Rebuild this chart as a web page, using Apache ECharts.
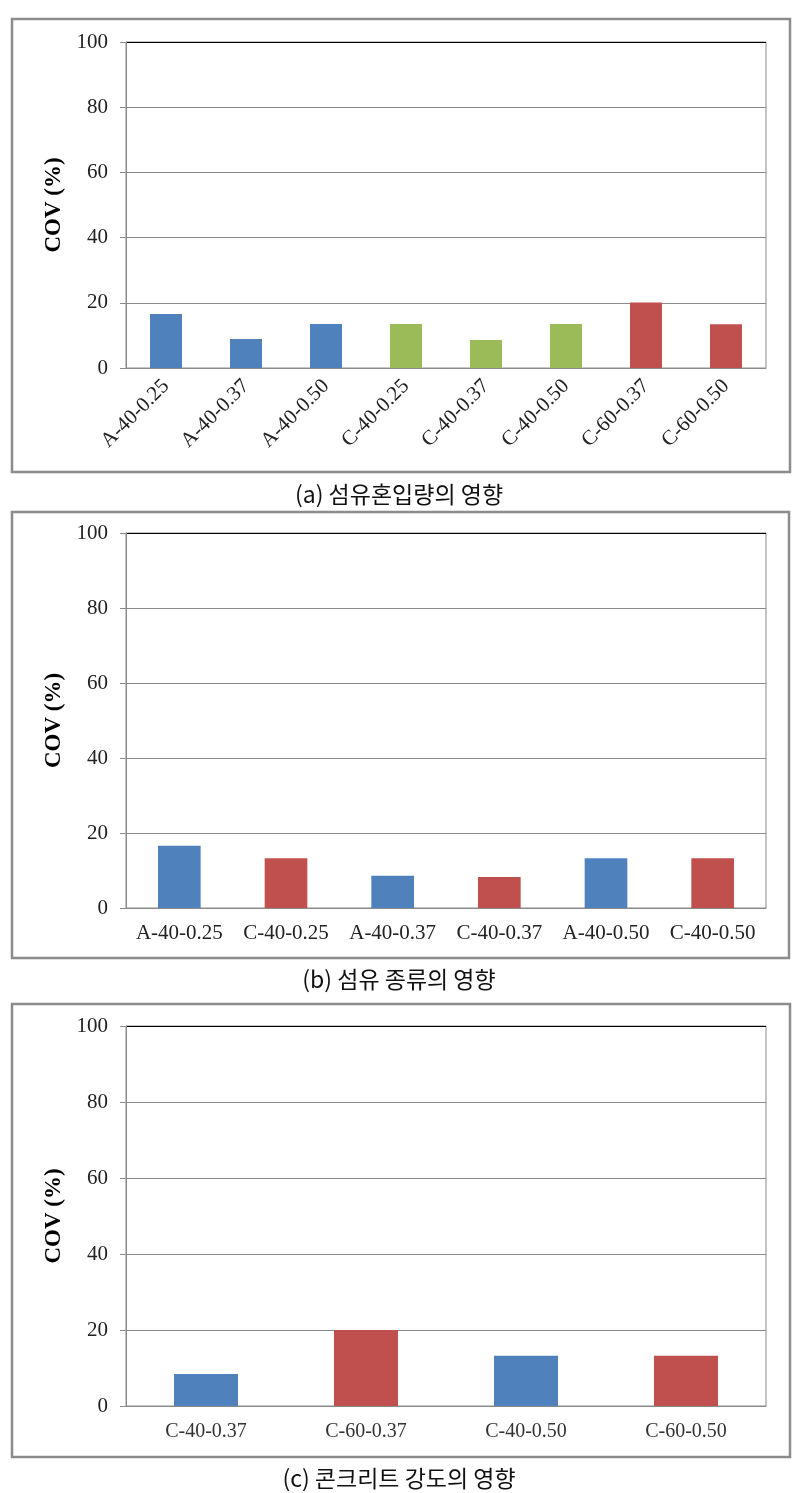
<!DOCTYPE html>
<html><head><meta charset="utf-8">
<script src="https://cdn.jsdelivr.net/npm/echarts@6/dist/echarts.min.js"></script>
<style>html,body{margin:0;padding:0;background:#fff;}#c{width:798px;height:1493px;}</style>
</head><body><div id="c"></div>
<script>
// ---- data ----
const catsA = ['A-40-0.25','A-40-0.37','A-40-0.50','C-40-0.25','C-40-0.37','C-40-0.50','C-60-0.37','C-60-0.50'];
const valsA = [16.6, 8.9, 13.5, 13.5, 8.6, 13.5, 20.1, 13.4];
const groupA = ['A','A','A','C40','C40','C40','C60','C60'];

const catsB = ['A-40-0.25','C-40-0.25','A-40-0.37','C-40-0.37','A-40-0.50','C-40-0.50'];
const valsB = [16.6, 13.3, 8.6, 8.3, 13.3, 13.3];
const groupB = ['A','C','A','C','A','C'];

const catsC = ['C-40-0.37','C-60-0.37','C-40-0.50','C-60-0.50'];
const valsC = [8.4, 20.0, 13.2, 13.2];
const groupC = ['C40','C60','C40','C60'];

const yTicks = [0, 20, 40, 60, 80, 100];
const yName = 'COV (%)';
const captions = ['(a) 섬유혼입량의 영향', '(b) 섬유 종류의 영향', '(c) 콘크리트 강도의 영향'];

// ---- styling ----
const BLUE = '#4F81BD', GREEN = '#9BBB59', RED = '#C0504D';
const colorMapA = {A: BLUE, C40: GREEN, C60: RED};
const colorMapB = {A: BLUE, C: RED};
const colorMapC = {C40: BLUE, C60: RED};
const SERIF = '"Liberation Serif","Times New Roman",serif';
const GRID_GRAY = '#8a8a8a';

const chart = echarts.init(document.getElementById('c'), null, {renderer: 'canvas'});

const grids = [
  {left: 126, top: 42, width: 640, height: 326},
  {left: 126, top: 533, width: 640, height: 375},
  {left: 126, top: 1026, width: 640, height: 380}
];

function yAxisFor(i) {
  return {
    type: 'value', gridIndex: i, min: yTicks[0], max: yTicks[yTicks.length-1], interval: 20,
    name: yName, nameLocation: 'middle', nameGap: 58,
    nameTextStyle: {fontFamily: SERIF, fontWeight: 'bold', fontSize: 23, color: '#000'},
    axisLine: {show: true, lineStyle: {color: GRID_GRAY, width: 1}},
    axisTick: {show: true, length: 6, lineStyle: {color: GRID_GRAY}},
    axisLabel: {fontFamily: SERIF, fontSize: 21, color: '#222', margin: 18},
    splitLine: {show: true, lineStyle: {color: [GRID_GRAY, GRID_GRAY, GRID_GRAY, GRID_GRAY, GRID_GRAY, '#000'], width: 1}}
  };
}

function xAxisFor(i, cats, labelOpts) {
  return {
    type: 'category', gridIndex: i, data: cats,
    axisLine: {show: true, lineStyle: {color: GRID_GRAY, width: 1}},
    axisTick: {show: false},
    splitLine: {show: false},
    axisLabel: labelOpts
  };
}

function seriesFor(i, vals, groups, cmap) {
  return {
    type: 'bar', xAxisIndex: i, yAxisIndex: i, barWidth: '40%',
    data: vals.map((v, k) => ({value: v, itemStyle: {color: cmap[groups[k]]}})),
    silent: true
  };
}

const boxes = [
  {x: 12, y: 19, w: 778, h: 453},
  {x: 12, y: 512, w: 777, h: 446},
  {x: 12, y: 1004, w: 778, h: 453}
];
const capY = [478, 963, 1462];

chart.setOption({
  animation: false,
  backgroundColor: '#fff',
  grid: grids.map(g => Object.assign({show: true, borderColor: GRID_GRAY, borderWidth: 1, backgroundColor: 'transparent'}, g)),
  xAxis: [
    xAxisFor(0, catsA, {rotate: 45, fontFamily: SERIF, fontSize: 21, color: '#222', margin: 15, interval: 0}),
    xAxisFor(1, catsB, {fontFamily: SERIF, fontSize: 21, color: '#222', margin: 15, interval: 0}),
    xAxisFor(2, catsC, {fontFamily: SERIF, fontSize: 20, color: '#333', margin: 16, interval: 0})
  ],
  yAxis: [yAxisFor(0), yAxisFor(1), yAxisFor(2)],
  series: [
    seriesFor(0, valsA, groupA, colorMapA),
    seriesFor(1, valsB, groupB, colorMapB),
    seriesFor(2, valsC, groupC, colorMapC)
  ],
  title: captions.map((t, i) => ({
    text: t, left: 'center', top: capY[i],
    textStyle: {fontFamily: '"Noto Sans CJK KR", sans-serif', fontWeight: 'normal', fontSize: 23, color: '#111'}
  })),
  graphic: boxes.map(b => ({
    type: 'rect', silent: true, z: -1,
    shape: {x: b.x, y: b.y, width: b.w, height: b.h},
    style: {fill: 'none', stroke: '#8c8c8c', lineWidth: 2.5}
  }))
});
</script></body></html>
